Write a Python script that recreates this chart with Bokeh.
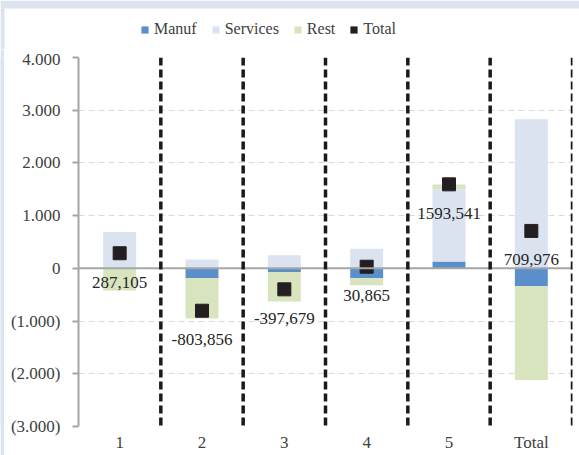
import numpy as np
from bokeh.plotting import figure
from bokeh.layouts import column, row
from bokeh.models import Span, Legend, LegendItem, ColumnDataSource, FixedTicker, Range1d
from bokeh.core.properties import value
from bokeh.embed import file_html
from bokeh.resources import INLINE

categories = ["1", "2", "3", "4", "5", "Total"]
manuf = [0, -190, -70, -190, 130, -340]
services = [690, 170, 250, 370, 1370, 2830]
rest = [-420, -760, -560, -130, 90, -1780]
total = [287.105, -803.856, -397.679, 30.865, 1593.541, 709.976]
total_labels = ["287,105", "-803,856", "-397,679", "30,865", "1593,541", "709,976"]
y_ticks = [-3000, -2000, -1000, 0, 1000, 2000, 3000, 4000]
y_tick_labels = ["(3.000)", "(2.000)", "(1.000)", "0", "1.000", "2.000", "3.000", "4.000"]

FONT = "Liberation Serif"
TXT = "#404040"
C_MANUF = "#5b8fcc"
C_SERV = "#dbe3f0"
C_REST = "#d7e4bd"
C_TOT = "#231f20"
C_BAND = "#dce3ef"

x = [float(i) for i in range(1, len(categories) + 1)]

p = figure(width=575, height=406, output_backend="svg", toolbar_location=None,
           x_range=Range1d(0.5, 6.5), y_range=Range1d(-3000, 4000),
           min_border_left=74, min_border_right=7, min_border_top=8, min_border_bottom=29)
p.outline_line_color = None

# stack positives and negatives separately in order Manuf, Services, Rest
pos_base = np.zeros(len(x))
neg_base = np.zeros(len(x))
renderers = {}
for name, vals, col in [("Manuf", manuf, C_MANUF), ("Services", services, C_SERV), ("Rest", rest, C_REST)]:
    v = np.array(vals, dtype=float)
    bottom = np.where(v >= 0, pos_base, neg_base)
    top = bottom + v
    pos_base = np.where(v >= 0, top, pos_base)
    neg_base = np.where(v < 0, top, neg_base)
    src = ColumnDataSource(dict(x=x, bottom=bottom.tolist(), top=top.tolist()))
    renderers[name] = p.vbar(x="x", bottom="bottom", top="top", width=0.4, source=src,
                             fill_color=col, line_color=None)

# grid
p.xgrid.grid_line_color = None
p.ygrid.grid_line_color = "#d9d9d9"
p.ygrid.grid_line_dash = "6 4"
p.ygrid.grid_line_width = 1

# zero line
p.add_layout(Span(location=0, dimension="width", line_color="#a6a6a6", line_width=2))

# vertical separators
for xv in x:
    p.add_layout(Span(location=xv + 0.5, dimension="height", line_color="#1a1a1a",
                      line_width=3.5, line_dash="8 4"))

tsrc = ColumnDataSource(dict(x=x, y=total, lab=total_labels))
p.scatter(x="x", y="y", source=tsrc, marker="square", size=13,
          fill_color=C_TOT, line_color=C_TOT)
p.text(x="x", y="y", text="lab", source=tsrc, text_align="center", text_baseline="middle",
       y_offset=29, text_font=value(FONT), text_font_size="17px", text_color="#262626")

# axes
p.yaxis.ticker = FixedTicker(ticks=y_ticks)
p.yaxis.major_label_overrides = {t: l for t, l in zip(y_ticks, y_tick_labels)}
p.yaxis.axis_line_color = "#a6a6a6"
p.yaxis.axis_line_width = 2
p.yaxis.major_tick_line_color = "#a6a6a6"
p.yaxis.major_tick_line_width = 2
p.yaxis.major_tick_out = 6
p.yaxis.major_tick_in = 0
p.yaxis.minor_tick_line_color = None
p.yaxis.major_label_text_font = FONT
p.yaxis.major_label_text_font_size = "17px"
p.yaxis.major_label_text_color = TXT
p.yaxis.major_label_standoff = 12

p.xaxis.ticker = FixedTicker(ticks=[1, 2, 3, 4, 5, 6])
p.xaxis.major_label_overrides = {i + 1: c for i, c in enumerate(categories)}
p.xaxis.axis_line_color = None
p.xaxis.major_tick_line_color = None
p.xaxis.minor_tick_line_color = None
p.xaxis.major_tick_out = 0
p.xaxis.major_tick_in = 0
p.xaxis.major_label_text_font = FONT
p.xaxis.major_label_text_font_size = "17px"
p.xaxis.major_label_text_color = TXT
p.xaxis.major_label_standoff = 6

# legend strip (separate figure above the chart)
lf = figure(width=579, height=49, output_backend="svg", toolbar_location=None,
            x_range=Range1d(0, 579), y_range=Range1d(0, 49),
            x_axis_location=None, y_axis_location=None,
            min_border_left=0, min_border_right=0, min_border_top=0, min_border_bottom=0)
lf.outline_line_color = None
lf.grid.grid_line_color = None
lf.quad(left=[0, 0], right=[579, 4], bottom=[41, 0], top=[49, 41],
        fill_color=C_BAND, line_color=None)
# legend-only renderers: one zero-height bar far outside the visible range
leg_r = [lf.vbar(x=[-1000], bottom=[0], top=[0], width=1, fill_color=c, line_color=None)
         for c in (C_MANUF, C_SERV, C_REST, C_TOT)]
legend = Legend(items=[LegendItem(label=lab, renderers=[r])
                       for lab, r in zip(["Manuf", "Services", "Rest", "Total"], leg_r)],
                orientation="horizontal", location=(140, 11),
                label_text_font=FONT, label_text_font_size="16px", label_text_color=TXT,
                glyph_width=9, glyph_height=9, spacing=14, label_standoff=5,
                border_line_color=None, background_fill_alpha=0, padding=4, margin=0)
lf.add_layout(legend)

# thin light band at the left edge
strip = figure(width=4, height=406, output_backend="svg", toolbar_location=None,
               x_axis_location=None, y_axis_location=None,
               min_border_left=0, min_border_right=0, min_border_top=0, min_border_bottom=0)
strip.outline_line_color = None
strip.grid.grid_line_color = None
strip.background_fill_color = C_BAND
strip.border_fill_color = C_BAND

layout = column(lf, row(strip, p, spacing=0), spacing=0)
open("out.html", "w").write(file_html(layout, INLINE))
